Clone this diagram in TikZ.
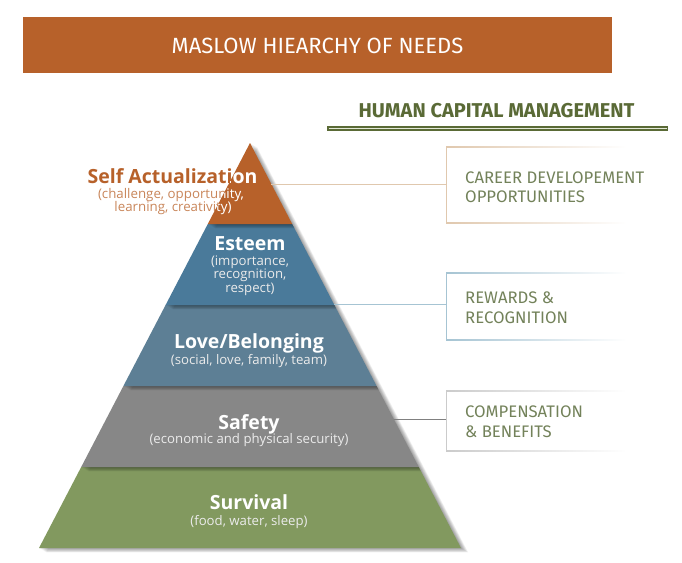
\documentclass[tikz,border=0pt]{standalone}
\usepackage{fontspec}
\setmainfont{Open Sans}
\newfontfamily\fira{Fira Sans}
\usetikzlibrary{calc}
\definecolor{rust}{HTML}{B7612A}
\definecolor{esteemc}{HTML}{4A7A9A}
\definecolor{lovec}{HTML}{5D7F95}
\definecolor{safec}{HTML}{878787}
\definecolor{survc}{HTML}{82995F}
\definecolor{hgreen}{HTML}{5A6A36}
\definecolor{hlight}{HTML}{E4E9D8}
\definecolor{boxtext}{HTML}{73825A}
\definecolor{tanc}{HTML}{E0C8AE}
\definecolor{lbluec}{HTML}{A6C4D3}
\definecolor{lgrayc}{HTML}{B5B5B5}
\definecolor{subrust}{HTML}{C9865A}
\tikzset{
  lbl/.style={anchor=base, inner sep=0pt, text=white, font=\bfseries\fontsize{19.5}{22}\selectfont},
  sublbl/.style={anchor=base, inner sep=0pt, text=white!92!black, font=\fontsize{13.2}{15}\selectfont},
  boxline/.style={anchor=base west, inner sep=0pt, text=boxtext, font=\fira\fontsize{16.7}{20}\selectfont},
  conn/.style={line width=0.9pt},
}
\newcommand{\softshadow}[1]{%
  \foreach \i in {1,...,8}{%
    \begin{scope}[shift={(\i*0.9,\i*0.55)}]
      \fill[black,opacity=0.05] #1;
    \end{scope}}}
\begin{document}
\begin{tikzpicture}[x=1pt,y=-1pt]
\useasboundingbox (0,0) rectangle (682,562);
\fill[white] (0,0) rectangle (682,562);
% title bar
\node[fill=rust, minimum width=589pt, minimum height=56pt, inner sep=0pt] (bar) at (317.5,45) {};
\node[anchor=base, inner sep=0pt, text=white, font=\fira\fontsize{22}{26}\selectfont] (title) at (317.5,53) {MASLOW HIEARCHY OF NEEDS};
% header
\node[anchor=base, inner sep=0pt, text=hgreen, font=\fira\bfseries\fontsize{20}{24}\selectfont] (hcm) at (496.5,117) {HUMAN CAPITAL MANAGEMENT};
\coordinate (hl) at (327,128.5);
\coordinate (hr) at (668,128.5);
\draw[hgreen, line width=4.6pt] (hl) -- (hr);
\draw[hlight, line width=1.6pt] ($(hl)+(1.5,0)$) -- ($(hr)+(-1.5,0)$);
% pyramid layers
\def\surv{(81.2,467) -- (418.8,467) -- (461,548) -- (39,548) -- cycle}
\def\safe{(123.4,386) -- (376.6,386) -- (418.8,467) -- (81.2,467) -- cycle}
\def\love{(165.6,305) -- (334.4,305) -- (376.6,386) -- (123.4,386) -- cycle}
\def\este{(207.8,224) -- (292.2,224) -- (334.4,305) -- (165.6,305) -- cycle}
\def\self{(250,143) -- (292.2,224) -- (207.8,224) -- cycle}
\softshadow{\surv}
\fill[survc] \surv;
\softshadow{\safe}
\fill[safec] \safe;
\softshadow{\love}
\fill[lovec] \love;
\softshadow{\este}
\fill[esteemc] \este;
\softshadow{\self}
\fill[rust] \self;
% self actualization label (orange outside, white inside triangle)
\node[anchor=base, inner sep=0pt, text=rust, font=\bfseries\fontsize{19.5}{22}\selectfont] (sa) at (172.5,183) {Self Actualization};
\node[anchor=base, inner sep=0pt, text=subrust, font=\fontsize{13.3}{15}\selectfont] (sa1) at (171,198) {(challenge, opportunity,};
\node[anchor=base, inner sep=0pt, text=subrust, font=\fontsize{13.3}{15}\selectfont] (sa2) at (173,211) {learning, creativity)};
\begin{scope}
  \clip \self;
  \node[anchor=base, inner sep=0pt, text=white, font=\bfseries\fontsize{19.5}{22}\selectfont] (saw) at (172.5,183) {Self Actualization};
  \node[anchor=base, inner sep=0pt, text=white, font=\fontsize{13.3}{15}\selectfont] (saw1) at (171,198) {(challenge, opportunity,};
  \node[anchor=base, inner sep=0pt, text=white, font=\fontsize{13.3}{15}\selectfont] (saw2) at (173,211) {learning, creativity)};
\end{scope}
% esteem
\node[lbl] (es) at (250,250) {Esteem};
\node[sublbl] (es1) at (250,265) {(importance,};
\node[sublbl] (es2) at (250,278.5) {recognition,};
\node[sublbl] (es3) at (250,292) {respect)};
% love
\node[lbl] (lo) at (249,348) {Love/Belonging};
\node[sublbl] (lo1) at (249,364) {(social, love, family, team)};
% safety
\node[lbl] (sf) at (249,429) {Safety};
\node[sublbl] (sf1) at (249,443) {(economic and physical security)};
% survival
\node[lbl] (sv) at (249,509) {Survival};
\node[sublbl] (sv1) at (249,525) {(food, water, sleep)};
% boxes
\node[minimum width=180pt, minimum height=76pt, inner sep=0pt, anchor=west] (b1) at (446,185) {};
\node[minimum width=180pt, minimum height=67pt, inner sep=0pt, anchor=west] (b2) at (446,306.5) {};
\node[minimum width=180pt, minimum height=60pt, inner sep=0pt, anchor=west] (b3) at (446,421) {};
\draw[tanc, line width=0.8pt] (b1.north west) -- (b1.south west);
\shade[left color=tanc, right color=white] (b1.north west) rectangle ($(b1.north east)+(0,1)$);
\shade[left color=tanc, right color=white] (b1.south west) rectangle ($(b1.south east)+(0,-1)$);
\draw[lbluec, line width=0.8pt] (b2.north west) -- (b2.south west);
\shade[left color=lbluec, right color=white] (b2.north west) rectangle ($(b2.north east)+(0,1)$);
\shade[left color=lbluec, right color=white] (b2.south west) rectangle ($(b2.south east)+(0,-1)$);
\draw[lgrayc!70, line width=0.8pt] (b3.north west) -- (b3.south west);
\shade[left color=lgrayc!70, right color=white] (b3.north west) rectangle ($(b3.north east)+(0,1)$);
\shade[left color=lgrayc!70, right color=white] (b3.south west) rectangle ($(b3.south east)+(0,-1)$);
\node[boxline] (t1a) at (465,183) {CAREER DEVELOPEMENT};
\node[boxline] (t1b) at (465,202.5) {OPPORTUNITIES};
\node[boxline] (t2a) at (465,303.5) {REWARDS \&};
\node[boxline] (t2b) at (465,323.5) {RECOGNITION};
\node[boxline] (t3a) at (465,417) {COMPENSATION};
\node[boxline] (t3b) at (465,437) {\& BENEFITS};
% connectors
\coordinate (c1) at (271.4,184);
\coordinate (c2) at (333.9,304);
\coordinate (c3) at (393.8,419);
\draw[conn, tanc] (c1) -- (c1 -| b1.west);
\draw[conn, lbluec] (c2) -- (c2 -| b2.west);
\draw[conn, gray] (c3) -- (c3 -| b3.west);
\end{tikzpicture}
\end{document}
